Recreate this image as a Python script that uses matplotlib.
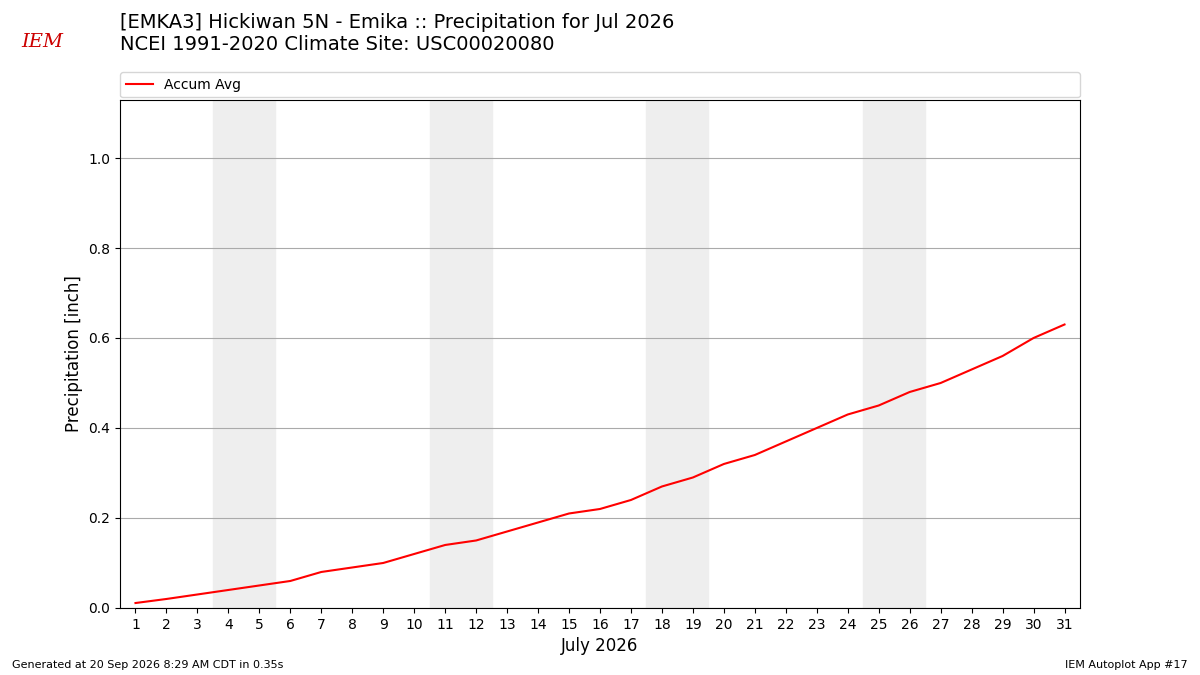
import matplotlib
matplotlib.use("Agg")
import matplotlib.pyplot as plt

days = list(range(1, 32))
accum = [0.011, 0.02, 0.03, 0.04, 0.05, 0.06, 0.08, 0.09, 0.10, 0.12, 0.14, 0.15,
         0.17, 0.19, 0.21, 0.22, 0.24, 0.27, 0.29, 0.32, 0.34, 0.37, 0.40, 0.43,
         0.45, 0.48, 0.50, 0.53, 0.56, 0.60, 0.63]
weekend_starts = [4, 11, 18, 25]

fig = plt.figure(figsize=(12, 6.75), dpi=100)
ax = fig.add_axes([0.1, 0.0993, 0.8, 0.7526])
for w in weekend_starts:
    ax.axvspan(w - 0.5, w + 1.5, color="#eeeeee", zorder=0)
line, = ax.plot(days, accum, color="red", lw=1.5, label="Accum Avg", zorder=3)
ax.set_xlim(0.5, 31.5)
ax.set_ylim(0, 1.129)
ax.set_xticks(days)
ax.set_yticks([0, 0.2, 0.4, 0.6, 0.8, 1.0])
ax.set_yticklabels(["0.0", "0.2", "0.4", "0.6", "0.8", "1.0"])
ax.grid(axis="y", color="#aaaaaa", lw=0.8)
ax.set_axisbelow(True)
ax.set_ylabel("Precipitation [inch]", fontsize=12)
ax.set_xlabel("July 2026", fontsize=12)
ax.tick_params(labelsize=10)
ax.legend(handles=[line], loc="lower left", bbox_to_anchor=(0, 1.005, 1, 0.05),
          mode="expand", ncol=1, frameon=True, fontsize=10, borderaxespad=0)

fig.text(0.1, 0.95, "[EMKA3] Hickiwan 5N - Emika :: Precipitation for Jul 2026\nNCEI 1991-2020 Climate Site: USC00020080",
         fontsize=14, va="center", ha="left")
fig.text(0.018, 0.93, "IEM", color="#cc0000", fontsize=14, style="italic", family="serif")
fig.text(0.01, 0.01, "Generated at 20 Sep 2026 8:29 AM CDT in 0.35s", fontsize=8)
fig.text(0.99, 0.01, "IEM Autoplot App #17", fontsize=8, ha="right")
fig.savefig("out.png", dpi=100)
